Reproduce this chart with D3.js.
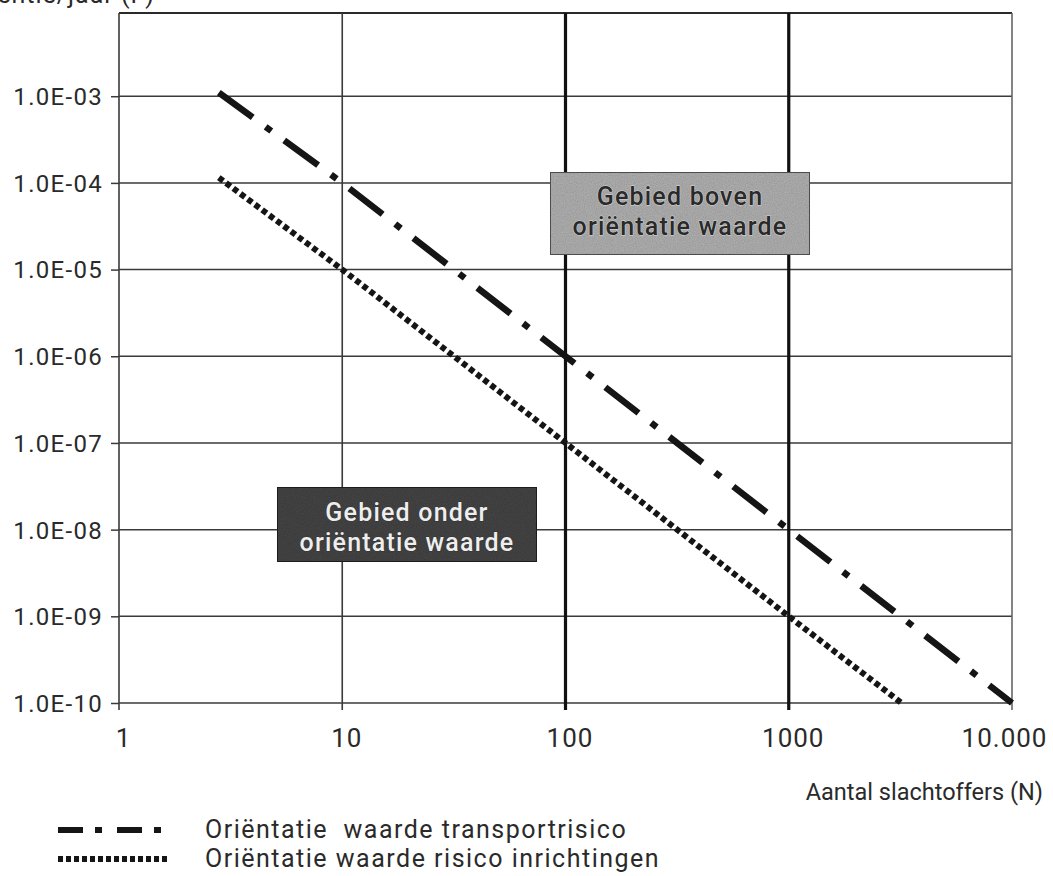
<!DOCTYPE html>
<html><head><meta charset="utf-8">
<script src="https://cdn.jsdelivr.net/npm/d3@7"></script>
<style>
html,body{margin:0;padding:0;background:#fff;}
svg{display:block;font-family:Roboto,"DejaVu Sans",sans-serif;}
</style></head>
<body>
<svg id="chart" width="1053" height="876"></svg>
<script>
// ---- data ----
const xTicks = [1, 10, 100, 1000, 10000];
const xTickLabels = ["1", "10", "100", "1000", "10.000"];
const yTicks = [1e-10, 1e-9, 1e-8, 1e-7, 1e-6, 1e-5, 1e-4, 1e-3];
const yTickLabels = ["1.0E-10", "1.0E-09", "1.0E-08", "1.0E-07", "1.0E-06", "1.0E-05", "1.0E-04", "1.0E-03"];
const thickGridX = [100, 1000];
const transportN = [2.8, 10, 100, 1000, 10000];
const transportF = [1.1e-3, 1e-4, 1e-6, 1e-8, 1e-10];
const inrichtingN = [2.8, 10, 100, 1000, 3200];
const inrichtingF = [1.15e-4, 1e-5, 1e-7, 1e-9, 1e-10];
const seriesNames = ["Oriëntatie  waarde transportrisico", "Oriëntatie waarde risico inrichtingen"];
const yTitle = "Frequentie/jaar (F)";
const xTitle = "Aantal slachtoffers (N)";
const boxTexts = [["Gebied boven", "oriëntatie waarde"], ["Gebied onder", "oriëntatie waarde"]];

// ---- layout ----
const L = 119, R = 1012, T = 13, B = 703;
const svg = d3.select("#chart");
const x = d3.scaleLog().domain([1, 10000]).range([L, R]);
const y = d3.scaleLog().domain([1e-10, Math.pow(10, -2.04)]).range([B, T]);
const txt = "#2a2a2a";

// noise filter for boxes
const defs = svg.append("defs");
const f = defs.append("filter").attr("id","noise").attr("x",0).attr("y",0).attr("width",1).attr("height",1);
f.append("feTurbulence").attr("type","fractalNoise").attr("baseFrequency",0.9).attr("numOctaves",2).attr("seed",3).attr("result","t");
f.append("feColorMatrix").attr("in","t").attr("type","matrix")
 .attr("values","0 0 0 0 0  0 0 0 0 0  0 0 0 0 0  0 0 0 0.35 0").attr("result","n");
f.append("feComposite").attr("in","n").attr("in2","SourceGraphic").attr("operator","in").attr("result","nn");
f.append("feMerge").call(m=>{m.append("feMergeNode").attr("in","SourceGraphic");m.append("feMergeNode").attr("in","nn");});

// horizontal gridlines
svg.append("g").selectAll("line").data(yTicks).join("line")
  .attr("x1", L).attr("x2", R).attr("y1", d => y(d)).attr("y2", d => y(d))
  .attr("stroke", "#3a3a3a").attr("stroke-width", 1.5);
// top border
svg.append("line").attr("x1", L).attr("x2", R).attr("y1", T).attr("y2", T)
  .attr("stroke", "#2a2a2a").attr("stroke-width", 2);

// vertical gridlines
svg.append("g").selectAll("line").data(xTicks).join("line")
  .attr("x1", d => x(d)).attr("x2", d => x(d)).attr("y1", T).attr("y2", B + 7)
  .attr("stroke", d => thickGridX.includes(d) ? "#111" : (d === 10000 ? "#666" : "#3a3a3a"))
  .attr("stroke-width", d => thickGridX.includes(d) ? 3.2 : 1.6);

// axes (labels + ticks)
const yAxis = d3.axisLeft(y).tickValues(yTicks).tickFormat((d, i) => yTickLabels[i]).tickSize(8).tickPadding(8);
const gy = svg.append("g").attr("transform", `translate(${L},0)`).call(yAxis);
gy.select(".domain").remove();
gy.selectAll(".tick line").attr("stroke", "#3a3a3a").attr("stroke-width", 1.5);
gy.selectAll(".tick text").attr("font-size", 24).attr("fill", txt).attr("font-family", "Roboto")
  .attr("letter-spacing", 1.3).attr("dy","0.35em");

const xAxis = d3.axisBottom(x).tickValues(xTicks).tickFormat((d, i) => xTickLabels[i]).tickSize(0).tickPadding(26);
const gx = svg.append("g").attr("transform", `translate(0,${B})`).call(xAxis);
gx.select(".domain").remove();
gx.selectAll(".tick text").attr("font-size", 26).attr("fill", txt).attr("font-family", "Roboto")
  .attr("letter-spacing", 1).attr("dx", d => d === 10000 ? -8 : 4);

// titles
svg.append("text").attr("x", 155).attr("y", 3).attr("text-anchor", "end")
  .attr("font-size", 25).attr("letter-spacing", 1).attr("fill", txt).text(yTitle);
svg.append("text").attr("x", 1043).attr("y", 800).attr("text-anchor", "end")
  .attr("font-size", 23.5).attr("letter-spacing", 0).attr("fill", txt).text(xTitle);

// series lines
const line = d3.line().x(d => x(d[0])).y(d => y(d[1]));
const plot = svg.append("g");
plot.append("path").datum(d3.zip(transportN, transportF)).attr("d", line)
  .attr("fill", "none").attr("stroke", "#151515").attr("stroke-width", 6.5)
  .attr("stroke-dasharray", "42,16,7,16");
plot.append("path").datum(d3.zip(inrichtingN, inrichtingF)).attr("d", line)
  .attr("fill", "none").attr("stroke", "#151515").attr("stroke-width", 6)
  .attr("stroke-dasharray", "5.5,3.5");

// annotation boxes
function box(x0, y0, w, h, fill, stroke, txtCol, outline, lines, dy) {
  const g = svg.append("g");
  g.append("rect").attr("x", x0).attr("y", y0).attr("width", w).attr("height", h)
    .attr("fill", fill).attr("stroke", stroke).attr("stroke-width", 2).attr("filter", "url(#noise)");
  g.selectAll("text").data(lines).join("text")
    .attr("x", x0 + w / 2).attr("y", (d, i) => y0 + dy + i * 30)
    .attr("text-anchor", "middle").attr("font-size", 25).attr("font-weight", 500)
    .attr("letter-spacing", 1.2).attr("fill", txtCol)
    .attr("stroke", outline).attr("stroke-width", 1).attr("paint-order","stroke")
    .text(d => d);
}
box(550, 172, 260, 83, "#b4b4b4", "#555", "#2a2a2a", "#d8d8d8", boxTexts[0], 33);
box(277, 487, 260, 75, "#474747", "#222", "#eeeeee", "#333", boxTexts[1], 34);

// legend
const leg = svg.append("g");
const legY = [830, 859];
const dashes = ["25,12,7,15", "5,3"];
leg.selectAll("line").data(seriesNames).join("line")
  .attr("x1", 58).attr("x2", 168).attr("y1", (d, i) => legY[i]).attr("y2", (d, i) => legY[i])
  .attr("stroke", "#151515").attr("stroke-width", 6).attr("stroke-dasharray", (d, i) => dashes[i]);
leg.selectAll("text").data(seriesNames).join("text")
  .attr("x", 205).attr("y", (d, i) => legY[i] + 8).attr("font-size", 25).attr("letter-spacing", 1.5)
  .attr("fill", txt).attr("xml:space", "preserve").style("white-space", "pre").text(d => d);
</script>
</body></html>
